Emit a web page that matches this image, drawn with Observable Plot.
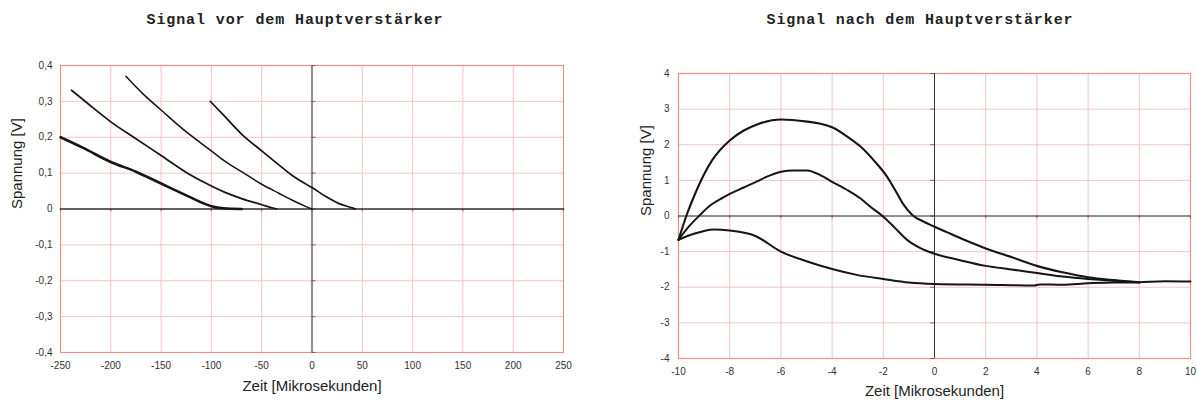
<!DOCTYPE html>
<html><head><meta charset="utf-8">
<script src="https://cdn.jsdelivr.net/npm/d3@7"></script>
<script src="https://cdn.jsdelivr.net/npm/@observablehq/plot@0.6"></script>
<style>
body{margin:0;background:#fff;width:1197px;height:403px;overflow:hidden;position:relative;font-family:"Liberation Sans",Arial,sans-serif}
.title{position:absolute;top:12px;font-family:"Liberation Mono","DejaVu Sans Mono",monospace;font-size:15px;font-weight:bold;letter-spacing:0.9px;color:#222;white-space:nowrap;transform:translateX(-50%)}
#left{position:absolute;left:0;top:40px}
#right{position:absolute;left:620px;top:40px}
</style></head><body>
<div class="title" style="left:295px">Signal vor dem Hauptverstärker</div>
<div class="title" style="left:920px">Signal nach dem Hauptverstärker</div>
<div id="left"></div><div id="right"></div>
<script>
// ---- Left chart: Signal vor dem Hauptverstärker ----
const vorXTicks = [-250,-200,-150,-100,-50,0,50,100,150,200,250];
const vorYTicks = [-0.4,-0.3,-0.2,-0.1,0,0.1,0.2,0.3,0.4];
const vorKurve1 = [[-250,0.2],[-228,0.171],[-200,0.131],[-175,0.104],[-150,0.071],[-125,0.038],[-108,0.016],[-100,0.008],[-88,0.002],[-70,0]];
const vorKurve2 = [[-239,0.331],[-222,0.292],[-200,0.243],[-175,0.196],[-150,0.149],[-125,0.102],[-100,0.064],[-87,0.047],[-70,0.029],[-50,0.012],[-38,0.002],[-35,0]];
const vorKurve3 = [[-185,0.37],[-168,0.321],[-150,0.276],[-128,0.222],[-100,0.162],[-87,0.134],[-70,0.104],[-50,0.069],[-33,0.044],[-20,0.025],[-7,0.008],[0,0]];
const vorKurve4 = [[-101,0.3],[-87,0.259],[-70,0.209],[-50,0.162],[-33,0.123],[-20,0.094],[-7,0.071],[0,0.06],[13,0.036],[27,0.015],[40,0.003],[43,0]];
const vorNull = [[-250,0],[250,0]];

// ---- Right chart: Signal nach dem Hauptverstärker ----
const nachXTicks = [-10,-8,-6,-4,-2,0,2,4,6,8,10];
const nachYTicks = [-4,-3,-2,-1,0,1,2,3,4];
const nachKurve1 = [[-10,-0.67],[-9.66,0.07],[-9.4,0.54],[-9.0,1.17],[-8.69,1.56],[-8,2.12],[-7.45,2.4],[-6.93,2.57],[-6,2.71],[-4.97,2.65],[-4.45,2.59],[-4,2.49],[-3.41,2.23],[-2.89,1.95],[-2.37,1.56],[-1.85,1.1],[-1.46,0.63],[-1.2,0.31],[-0.87,0.03],[-0.42,-0.16],[0,-0.3],[0.5,-0.46],[1,-0.62],[2,-0.91],[3,-1.15],[4,-1.4],[5,-1.58],[6,-1.72],[7,-1.8],[8,-1.86]];
const nachKurve2 = [[-10,-0.67],[-9.6,-0.3],[-9.2,0.0],[-8.75,0.3],[-8.3,0.5],[-8,0.62],[-7.45,0.8],[-6.93,0.97],[-6.5,1.12],[-6,1.24],[-5.5,1.28],[-4.97,1.28],[-4.45,1.14],[-4,0.96],[-3.41,0.73],[-2.89,0.49],[-2.5,0.26],[-2,-0.02],[-1.59,-0.3],[-1.07,-0.67],[-0.55,-0.9],[0,-1.06],[1,-1.24],[2,-1.4],[3,-1.5],[4,-1.6],[5,-1.7],[6,-1.77],[7,-1.82],[8,-1.87]];
const nachKurve3 = [[-10,-0.67],[-9.4,-0.5],[-9,-0.42],[-8.6,-0.38],[-8,-0.41],[-7,-0.56],[-6,-1.0],[-5,-1.27],[-4,-1.49],[-3,-1.66],[-2,-1.77],[-1,-1.87],[0,-1.91],[2,-1.93],[3.9,-1.95],[4.1,-1.92],[5,-1.93],[6,-1.89],[7,-1.87],[8,-1.86],[9,-1.83],[10,-1.84]];
const nachNull = [[-10,0],[10,0]];

const gridColor = "#f6c4c4";
const frameColor = "#f08c8c";
const ink = "#151515";
const commaFmt = d => d === 0 ? "0" : d.toFixed(1).replace(".", ",");

function chart(o) {
  return Plot.plot({
    width: o.width, height: o.height,
    marginLeft: o.ml, marginRight: o.mr, marginTop: o.mt, marginBottom: o.mb,
    style: {fontFamily: '"Liberation Sans", Arial, sans-serif', background: "#fff", color: "#333"},
    x: {domain: o.xd},
    y: {domain: o.yd},
    marks: [
      Plot.ruleX(o.xt, {stroke: gridColor, strokeWidth: 1}),
      Plot.ruleY(o.yt, {stroke: gridColor, strokeWidth: 1}),
      Plot.frame({stroke: frameColor, strokeWidth: 1.2}),
      Plot.axisX(o.xt, {tickSize: 0, tickPadding: o.xpad, fontSize: 10, tickFormat: o.xf, label: null, fill: "#333"}),
      Plot.axisY(o.yt, {tickSize: 0, tickPadding: o.ypad, fontSize: 10, tickFormat: o.yf, label: null, fill: "#333"}),
      Plot.ruleX([0], {stroke: "#333", strokeWidth: 1}),
      Plot.ruleX(o.xt, {x: d => d, y1: 0, y2: o.tickLen, stroke: "#555", strokeWidth: 0.8}),
      Plot.ruleY(o.yt, {y: d => d, x1: 0, x2: o.tickLenX, stroke: "#555", strokeWidth: 0.8}),
      Plot.line(o.nullLine, {x: d => d[0], y: d => d[1], stroke: o.nullColor, strokeWidth: o.nullWidth}),
      ...o.curves.map(c => Plot.line(c.data, {x: d => d[0], y: d => d[1], stroke: ink, strokeWidth: c.w, curve: "monotone-x"})),
      Plot.text(["Zeit [Mikrosekunden]"], {frameAnchor: "bottom", dy: o.xlab, fontSize: 15, fill: "#222"}),
      Plot.text(["Spannung [V]"], {frameAnchor: "left", dx: o.ylab, rotate: -90, fontSize: 15, fill: "#222"})
    ]
  });
}

document.getElementById("left").append(chart({
  width: 590, height: 360, ml: 60, mr: 27, mt: 25, mb: 48,
  xd: [-250, 250], yd: [-0.4, 0.4], xt: vorXTicks, yt: vorYTicks,
  xf: d => String(d), yf: commaFmt, xpad: 9, ypad: 8,
  tickLen: -0.008, tickLenX: 4,
  nullLine: vorNull, nullColor: "#333", nullWidth: 1.6,
  curves: [{data: vorKurve1, w: 2.6}, {data: vorKurve2, w: 1.7}, {data: vorKurve3, w: 1.5}, {data: vorKurve4, w: 1.7}],
  xlab: 38, ylab: -43
}));

document.getElementById("right").append(chart({
  width: 577, height: 363, ml: 58, mr: 7, mt: 33, mb: 45,
  xd: [-10, 10], yd: [-4, 4], xt: nachXTicks, yt: nachYTicks,
  xf: d => String(d), yf: d => String(d), xpad: 9, ypad: 9,
  tickLen: -0.08, tickLenX: -0.15,
  nullLine: nachNull, nullColor: "#2a3a3a", nullWidth: 1.1,
  curves: [{data: nachKurve1, w: 2.1}, {data: nachKurve2, w: 2.0}, {data: nachKurve3, w: 2.0}],
  xlab: 37, ylab: -32
}));
</script>
</body></html>
